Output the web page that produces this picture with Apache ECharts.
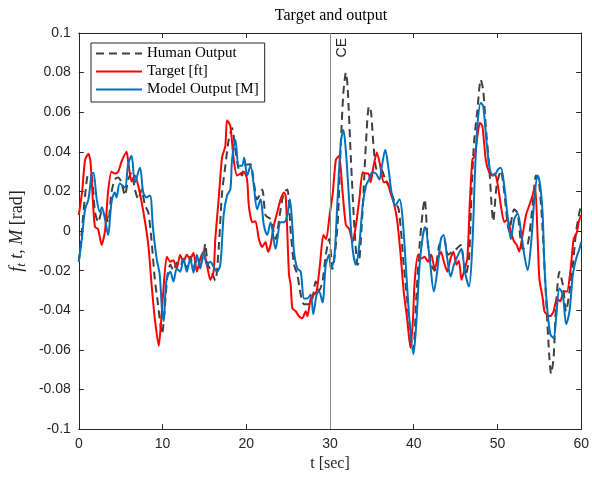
<!DOCTYPE html>
<html>
<head>
<meta charset="utf-8">
<script src="https://cdn.jsdelivr.net/npm/echarts@6/dist/echarts.min.js"></script>
<style>html,body{margin:0;padding:0;background:#fff}#c{width:592px;height:477px}</style>
</head>
<body>
<div id="c"></div>
<script>
// ---- data ----
const xTicks = [0, 10, 20, 30, 40, 50, 60];
const yTicks = [-0.1, -0.08, -0.06, -0.04, -0.02, 0, 0.02, 0.04, 0.06, 0.08, 0.1];
const eventTime = 30;
const eventLabel = 'CE';

const humanT = [0,0.36,0.75,1.15,1.54,1.94,2.33,2.73,3.13,3.5,3.9,4.3,4.7,5.1,5.5,5.9,6.3,6.7,7.1,7.5,7.9,8.3,8.67,9.07,9.46,9.94,10.3,10.6,10.93,11.3,11.7,12.1,12.5,12.9,13.3,13.7,14.1,14.5,14.9,15.1,15.4,15.8,16.3,16.7,17.1,17.5,17.9,18.3,18.7,19.1,19.5,19.8,20.5,20.9,21.3,21.9,22.3,22.9,23.5,24.1,24.5,24.9,25.3,25.7,26.1,26.5,26.9,27.5,27.9,28.3,28.7,29.1,29.5,29.9,30.3,30.9,31.3,31.6,31.9,32.1,32.5,32.9,33.3,33.5,33.9,34.3,34.65,34.9,35.2,35.6,36.1,36.6,37.2,37.6,38.2,38.8,39.2,39.6,39.95,40.3,40.7,41.1,41.3,41.7,42.1,42.5,43.05,43.6,44.1,44.6,45.1,45.6,46.2,46.6,46.9,47.2,47.6,48.0,48.3,48.6,49.0,49.5,49.9,50.4,50.8,51.4,52.0,52.4,53.0,53.6,54.2,54.6,55.0,55.4,55.8,56.2,56.4,56.7,57.0,57.4,57.8,58.2,58.6,59.0,59.4,59.8,60];
const humanV = [-0.0155,0.0,0.018,0.029,0.028,0.0095,0.0045,0.0095,0.0095,0.0045,0.0195,0.026,0.027,0.0245,0.018,0.026,0.0295,0.021,0.016,0.021,0.013,0.0095,-0.004,-0.024,-0.037,-0.052,-0.037,-0.022,-0.017,-0.02,-0.016,-0.018,-0.014,-0.019,-0.013,-0.018,-0.015,-0.017,-0.012,-0.0065,-0.017,-0.02,-0.025,-0.009,0.019,0.033,0.046,0.052,0.041,0.031,0.028,0.033,0.0337,0.0245,0.016,0.021,0.008,0.006,-0.004,0.011,0.0195,0.021,0.0,-0.017,-0.022,-0.032,-0.037,-0.037,-0.034,-0.0255,-0.03,-0.0255,-0.012,-0.004,-0.019,0.003,0.045,0.07,0.08,0.073,0.036,0.003,-0.017,-0.015,0.011,0.045,0.063,0.06,0.043,0.031,0.031,0.026,0.021,0.016,0.011,-0.017,-0.034,-0.052,-0.06,-0.034,-0.007,0.011,0.016,-0.007,-0.017,-0.02,-0.007,-0.004,-0.012,-0.0104,-0.009,-0.007,-0.022,-0.014,0.0196,0.0447,0.061,0.0765,0.071,0.053,0.033,0.005,0.023,0.0305,0.02,0.0,0.011,0.009,-0.009,-0.007,0.013,0.028,0.023,0.0,-0.034,-0.064,-0.072,-0.064,-0.037,-0.0205,-0.027,-0.0405,-0.0305,-0.017,0.0,0.0096,0.013];

const targetT = [0,0.4,0.75,1.15,1.4,1.74,1.94,2.3,2.73,3.13,3.5,3.9,4.3,4.71,5.1,5.7,5.9,6.3,6.7,7.09,7.7,8.3,8.67,9.07,9.55,9.75,10.1,10.5,10.93,11.3,11.7,12.1,12.5,12.9,13.3,13.7,14.1,14.5,14.9,15.3,15.7,16.1,16.3,16.7,17.1,17.5,17.7,18.1,18.5,18.9,19.3,19.72,20.1,20.3,20.7,21.1,21.5,21.9,22.3,22.6,22.9,23.3,23.7,24.1,24.5,24.7,24.9,25.1,25.3,25.5,25.9,26.3,26.7,27.1,27.3,27.7,28.1,28.4,28.8,29.2,29.55,29.95,30.3,30.7,31.1,31.5,31.9,32.3,32.7,33.1,33.5,33.9,34.3,34.6,34.85,35.2,35.6,36.0,36.4,36.8,37.2,37.6,38.0,38.4,38.8,39.2,39.6,39.9,40.1,40.5,40.9,41.3,41.7,42.1,42.5,42.9,43.25,43.6,44.0,44.4,44.75,45.1,45.4,45.7,46.0,46.4,46.7,47.0,47.3,47.6,47.9,48.2,48.6,49.0,49.4,49.7,50.05,50.4,50.8,51.2,51.6,52.0,52.3,52.6,53.0,53.4,53.8,54.2,54.5,54.8,55.0,55.4,55.6,55.9,56.3,56.7,57.1,57.5,57.9,58.3,58.7,59.1,59.5,59.7,60];
const targetV = [0.008,0.02,0.036,0.039,0.035,0.011,0.002,0.001,-0.007,0.0,0.02,0.03,0.029,0.03,0.035,0.04,0.035,0.025,0.028,0.023,0.01,-0.007,-0.026,-0.044,-0.058,-0.05,-0.03,-0.013,-0.0155,-0.0147,-0.019,-0.012,-0.0155,-0.012,-0.014,-0.011,-0.0205,-0.014,-0.0105,-0.017,-0.0247,-0.0205,-0.004,0.016,0.037,0.043,0.056,0.053,0.036,0.028,0.029,0.03,0.026,0.013,0.0045,0.005,-0.004,-0.008,-0.0055,-0.0105,-0.007,0.003,0.0095,0.016,0.0195,0.018,-0.0005,-0.022,-0.027,-0.039,-0.0405,-0.043,-0.044,-0.0405,-0.043,-0.034,-0.032,-0.0305,-0.017,-0.002,-0.004,0.008,0.018,0.036,0.038,0.0196,0.003,0.001,-0.0055,0.003,0.016,0.0297,0.029,0.029,0.0246,0.033,0.0397,0.033,0.0246,0.025,0.0196,0.0146,0.006,-0.0104,-0.0305,-0.044,-0.059,-0.045,-0.026,-0.012,-0.0138,-0.013,-0.0155,-0.012,-0.019,-0.0138,-0.0104,-0.0155,-0.0205,-0.0138,-0.0104,-0.017,-0.015,-0.0246,-0.0205,-0.0138,0.0146,0.036,0.038,0.048,0.0547,0.053,0.036,0.0297,0.028,0.029,0.023,0.013,0.0046,0.006,-0.0004,-0.0054,-0.007,-0.0104,-0.002,0.008,0.013,0.018,0.023,-0.004,-0.024,-0.034,-0.0405,-0.042,-0.043,-0.0405,-0.034,-0.0355,-0.0305,-0.0305,-0.0205,-0.004,-0.0004,0.0046,0.008];

const modelT = [0,0.36,0.75,1.15,1.54,1.75,2.14,2.53,2.75,3.13,3.5,3.9,4.3,4.5,4.9,5.5,5.9,6.3,6.7,7.3,7.7,8.1,8.5,8.87,9.3,9.66,9.94,10.14,10.3,10.5,10.93,11.3,11.7,12.1,12.5,12.9,13.3,13.7,14.1,14.5,14.9,15.3,15.7,16.1,16.5,16.9,17.3,17.7,18.1,18.3,18.7,19.1,19.5,19.75,20.1,20.5,20.9,21.3,21.7,22.1,22.5,22.9,23.5,24.1,24.5,24.9,25.2,25.5,25.7,26.1,26.5,26.9,27.3,27.7,28.0,28.4,28.7,29.1,29.5,29.9,30.1,30.5,30.9,31.3,31.6,31.9,32.3,32.7,33.1,33.5,33.9,34.3,34.65,35.05,35.5,35.9,36.2,36.6,37.0,37.4,37.8,38.3,38.7,39.1,39.5,39.96,40.3,40.7,41.1,41.35,41.9,42.4,42.8,43.25,43.56,44.0,44.4,44.8,45.3,45.7,46.1,46.6,47.0,47.3,47.6,48.0,48.3,48.7,49.1,49.5,49.8,50.05,50.4,50.8,51.2,51.6,52.0,52.4,52.8,53.2,53.6,54.0,54.4,54.8,55.1,55.4,55.6,55.9,56.3,56.7,57.0,57.4,57.8,58.2,58.6,59.0,59.4,59.8,60];
const modelV = [-0.0155,-0.004,0.011,0.016,0.029,0.0295,0.016,0.0095,0.012,0.006,-0.002,0.0145,0.0195,0.017,0.024,0.022,0.034,0.038,0.0245,0.032,0.0195,0.017,0.018,0.001,-0.014,-0.022,-0.04,-0.0455,-0.034,-0.024,-0.0205,-0.0255,-0.019,-0.0205,-0.014,-0.0205,-0.014,-0.021,-0.012,-0.019,-0.0105,-0.017,-0.0155,-0.018,-0.0205,-0.017,0.008,0.018,0.021,0.036,0.046,0.033,0.033,0.037,0.028,0.033,0.023,0.011,0.016,0.003,-0.002,0.0045,-0.009,0.0045,0.0045,0.008,0.016,0.003,-0.0105,-0.019,-0.0205,-0.034,-0.034,-0.032,-0.042,-0.032,-0.0305,-0.036,-0.017,-0.012,-0.019,-0.014,0.016,0.045,0.051,0.04,0.0146,-0.009,-0.017,-0.007,0.013,0.023,0.026,0.0297,0.029,0.026,0.033,0.041,0.031,0.018,0.013,0.016,0.0046,-0.0205,-0.0455,-0.0622,-0.047,-0.017,-0.002,0.002,-0.0138,-0.0305,-0.0205,-0.0038,-0.002,-0.0138,-0.023,-0.017,-0.012,-0.009,-0.0205,-0.028,-0.007,0.028,0.053,0.0647,0.063,0.0447,0.031,0.028,0.029,0.031,0.032,0.023,0.008,-0.004,0.006,0.0088,0.0,-0.012,-0.0197,-0.007,0.016,0.028,0.023,0.008,-0.017,-0.037,-0.052,-0.054,-0.044,-0.029,-0.032,-0.047,-0.0405,-0.022,-0.0138,-0.0088,-0.0055];

const pairs = (t, v) => t.map((x, i) => [x, v[i]]);
const axisColor = '#262626';
const fmtY = v => String(parseFloat(Number(v).toFixed(2)));

const chart = echarts.init(document.getElementById('c'), null, {renderer: 'canvas'});
const commonAxis = {
  axisLine: {show: true, onZero: false, lineStyle: {color: axisColor, width: 1}},
  axisTick: {show: true, inside: true, length: 5, lineStyle: {color: axisColor}},
  splitLine: {show: false}
};
chart.setOption({
  animation: false,
  backgroundColor: '#fff',
  title: {
    text: 'Target and output', left: 331, top: 8, textAlign: 'center', padding: 0,
    textStyle: {fontFamily: 'Liberation Serif', fontSize: 16, fontWeight: 'normal', color: '#000'}
  },
  grid: {left: 78, right: 9, top: 33, bottom: 45, containLabel: false},
  legend: {
    orient: 'vertical', left: 91, top: 43,
    itemWidth: 46, itemHeight: 14, itemGap: 3,
    padding: [3, 6, 5, 4],
    borderColor: axisColor, borderWidth: 1, backgroundColor: '#fff',
    itemStyle: {opacity: 0},
    textStyle: {fontFamily: 'Liberation Serif', fontSize: 15, color: '#000'},
    data: ['Human Output', 'Target [ft]', 'Model Output [M]']
  },
  xAxis: [
    Object.assign({}, commonAxis, {
      type: 'value', min: xTicks[0], max: xTicks[xTicks.length - 1], interval: 10, position: 'bottom',
      axisLabel: {color: axisColor, fontFamily: 'Liberation Sans', fontSize: 14, margin: 8},
      name: 't [sec]', nameLocation: 'middle', nameGap: 26,
      nameTextStyle: {fontFamily: 'Liberation Serif', fontSize: 16, color: axisColor}
    }),
    Object.assign({}, commonAxis, {
      type: 'value', min: xTicks[0], max: xTicks[xTicks.length - 1], interval: 10, position: 'top',
      axisLabel: {show: false}
    })
  ],
  yAxis: [
    Object.assign({}, commonAxis, {
      type: 'value', min: yTicks[0], max: yTicks[yTicks.length - 1], interval: 0.02, position: 'left',
      axisLabel: {color: axisColor, fontFamily: 'Liberation Sans', fontSize: 14, margin: 8, formatter: fmtY},
      name: '{i|f}{s|t}{i| t}, {i|M} [rad]', nameLocation: 'middle', nameGap: 45, nameRotate: 90,
      nameTextStyle: {
        fontFamily: 'Liberation Serif', fontSize: 18, color: axisColor,
        rich: {
          i: {fontFamily: 'Liberation Serif', fontSize: 18, fontStyle: 'italic', color: axisColor},
          s: {fontFamily: 'Liberation Serif', fontSize: 13, fontStyle: 'italic', color: axisColor, padding: [9, 0, 0, 0]}
        }
      }
    }),
    Object.assign({}, commonAxis, {
      type: 'value', min: yTicks[0], max: yTicks[yTicks.length - 1], interval: 0.02, position: 'right',
      axisLabel: {show: false}
    })
  ],
  series: [
    {
      name: 'Human Output', type: 'line', data: pairs(humanT, humanV),
      symbol: 'none', smooth: 0.25, color: '#404040',
      lineStyle: {color: '#404040', width: 2, type: [8, 5]},
      markLine: {
        silent: true, symbol: ['none', 'none'], animation: false,
        lineStyle: {color: '#8c8c8c', width: 1, type: 'solid'},
        label: {show: true, formatter: eventLabel, position: 'insideEndBottom', distance: 5,
          fontFamily: 'Liberation Sans', fontSize: 14, color: axisColor},
        data: [{xAxis: eventTime}]
      }
    },
    {
      name: 'Target [ft]', type: 'line', data: pairs(targetT, targetV),
      symbol: 'none', smooth: 0.2, color: '#ff0000',
      lineStyle: {color: '#ff0000', width: 2}
    },
    {
      name: 'Model Output [M]', type: 'line', data: pairs(modelT, modelV),
      symbol: 'none', smooth: 0.3, color: '#0072bd',
      lineStyle: {color: '#0072bd', width: 2}
    }
  ]
});
</script>
</body>
</html>
